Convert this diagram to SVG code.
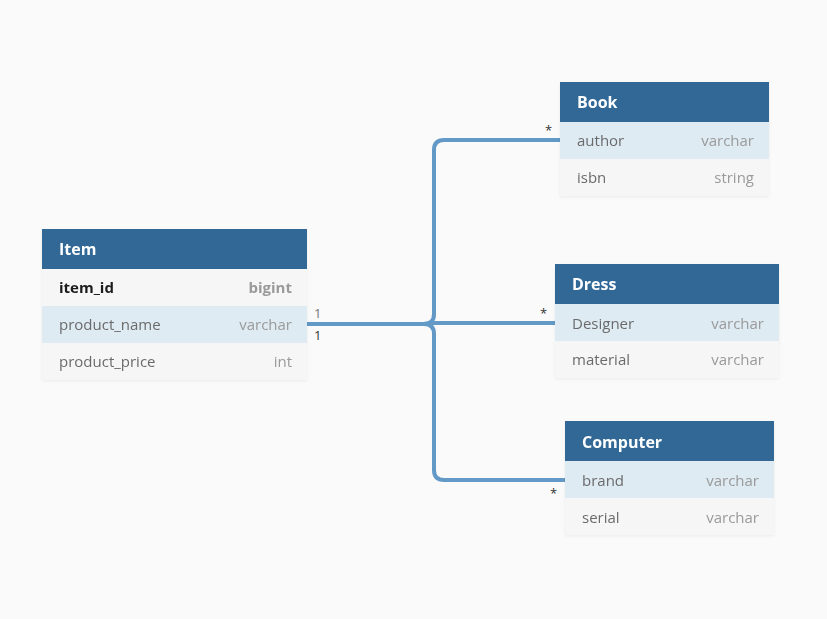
<svg xmlns="http://www.w3.org/2000/svg" width="827" height="619" viewBox="0 0 827 619">
  <style>
    .hdr { fill: #316896; }
    .row { fill: #f6f6f6; }
    .hl { fill: #deebf3; }
    .title { font-family: "Open Sans", "Liberation Sans", sans-serif; font-size: 16px; font-weight: bold; fill: #ffffff; }
    .fname { font-family: "Open Sans", "Liberation Sans", sans-serif; font-size: 15px; fill: #6b6b6b; }
    .ftype { font-family: "Open Sans", "Liberation Sans", sans-serif; font-size: 15px; fill: #9a9a9a; text-anchor: end; }
    .pk { font-weight: bold; fill: #1a1a1a; }
    .pkt { font-weight: bold; fill: #9a9a9a; }
    .link { fill: none; stroke: #6399c6; stroke-width: 4; }
    .card { font-family: "Open Sans", "Liberation Sans", sans-serif; font-size: 13px; fill: #333333; }
    .card.muted { fill: #777777; }
  </style>
  <defs>
    <filter id="shadow" x="-5%" y="-5%" width="110%" height="115%">
      <feDropShadow dx="0" dy="1" stdDeviation="1.5" flood-color="#000" flood-opacity="0.06"/>
    </filter>
  </defs>

  <rect width="827" height="619" fill="#fafafa"/>

  <!-- relationships -->
  <g id="connectors">
    <path class="link" d="M307,324 H424 Q434,324 434,314 V150 Q434,140 444,140 H560"/>
    <path class="link" d="M307,324 H424 Q430,323 436,323 H555"/>
    <path class="link" d="M307,324 H424 Q434,324 434,334 V470 Q434,480 444,480 H565"/>
    <text class="card muted" x="314" y="318">1</text>
    <text class="card" x="314" y="340">1</text>
    <text class="card" x="545" y="135">*</text>
    <text class="card" x="540" y="318">*</text>
    <text class="card" x="550" y="498">*</text>
  </g>

  <!-- Item -->
  <g id="item" filter="url(#shadow)">
    <rect class="hdr" x="42" y="229" width="265" height="40"/>
    <rect class="row" x="42" y="269" width="265" height="37"/>
    <rect class="hl" x="42" y="306" width="265" height="37"/>
    <rect class="row" x="42" y="343" width="265" height="37"/>
    <text class="title" x="59" y="255">Item</text>
    <text class="fname pk" x="59" y="293">item_id</text>
    <text class="ftype pkt" x="292" y="293">bigint</text>
    <text class="fname" x="59" y="330">product_name</text>
    <text class="ftype" x="292" y="330">varchar</text>
    <text class="fname" x="59" y="367">product_price</text>
    <text class="ftype" x="292" y="367">int</text>
  </g>

  <!-- Book -->
  <g id="book" filter="url(#shadow)">
    <rect class="hdr" x="560" y="82" width="209" height="40"/>
    <rect class="hl" x="560" y="122" width="209" height="37"/>
    <rect class="row" x="560" y="159" width="209" height="37"/>
    <text class="title" x="577" y="108">Book</text>
    <text class="fname" x="577" y="146">author</text>
    <text class="ftype" x="754" y="146">varchar</text>
    <text class="fname" x="577" y="183">isbn</text>
    <text class="ftype" x="754" y="183">string</text>
  </g>

  <!-- Dress -->
  <g id="dress" filter="url(#shadow)">
    <rect class="hdr" x="555" y="264" width="224" height="40"/>
    <rect class="hl" x="555" y="304" width="224" height="37"/>
    <rect class="row" x="555" y="341" width="224" height="37"/>
    <text class="title" x="572" y="290">Dress</text>
    <text class="fname" x="572" y="329">Designer</text>
    <text class="ftype" x="764" y="329">varchar</text>
    <text class="fname" x="572" y="365">material</text>
    <text class="ftype" x="764" y="365">varchar</text>
  </g>

  <!-- Computer -->
  <g id="computer" filter="url(#shadow)">
    <rect class="hdr" x="565" y="421" width="209" height="40"/>
    <rect class="hl" x="565" y="461" width="209" height="37"/>
    <rect class="row" x="565" y="498" width="209" height="37"/>
    <text class="title" x="582" y="448">Computer</text>
    <text class="fname" x="582" y="486">brand</text>
    <text class="ftype" x="759" y="486">varchar</text>
    <text class="fname" x="582" y="523">serial</text>
    <text class="ftype" x="759" y="523">varchar</text>
  </g>
</svg>
